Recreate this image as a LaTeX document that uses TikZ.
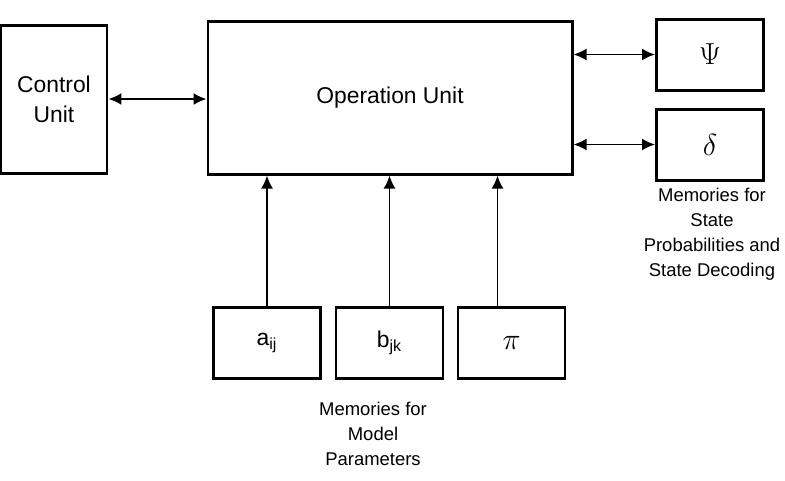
\documentclass[tikz,border=0pt]{standalone}
\usepackage{fontspec}
\setmainfont{Liberation Sans}
\usetikzlibrary{arrows.meta}
\begin{document}
\begin{tikzpicture}[>={Latex[length=2.6mm,width=2.4mm]},
  unit/.style={draw, rectangle, line width=1.7pt, align=center, font=\fontsize{13}{17}\selectfont},
  mem/.style={draw, rectangle, line width=1.7pt, minimum width=2.14cm, minimum height=1.42cm, font=\fontsize{13}{17}\selectfont},
  note/.style={align=center, font=\fontsize{10.5}{14.2}\selectfont},
  link/.style={line width=1.1pt}]
\useasboundingbox (0,0) rectangle (15.7,-9.6);
\node[unit, minimum width=2.12cm, minimum height=2.96cm] (ctrl) at (1.08,-1.98) {Control\\Unit};
\node[unit, minimum width=7.28cm, minimum height=3.06cm] (op) at (7.8,-1.95) {Operation Unit};
\node[mem] (psi) at (14.2,-1.09) {\fontsize{16}{18}\selectfont$\Psi$};
\node[mem] (delta) at (14.2,-2.89) {\fontsize{17}{18}\selectfont$\delta$};
\node[mem] (aij) at (5.34,-6.86) {a\textsubscript{ij}};
\node[mem] (bjk) at (7.79,-6.86) {b\textsubscript{jk}};
\node[mem] (pi) at (10.23,-6.86) {\fontsize{17}{18}\selectfont$\pi$};
\node[note] (statemem) at (14.24,-4.68) {Memories for\\State\\Probabilities and\\State Decoding};
\node[note] (modelmem) at (7.46,-8.68) {Memories for\\Model\\Parameters};

\draw[link, <->] (ctrl.east) -- (ctrl.east -| op.west);
\draw[link, <->] (op.east |- psi) -- (psi.west);
\draw[link, <->] (op.east |- delta) -- (delta.west);
\draw[link, ->] (aij.north) -- (aij.north |- op.south);
\draw[link, ->] (bjk.north) -- (bjk.north |- op.south);
\draw[link, ->] ([xshift=-0.28cm]pi.north) -- ([xshift=-0.28cm]pi.north |- op.south);
\end{tikzpicture}
\end{document}
